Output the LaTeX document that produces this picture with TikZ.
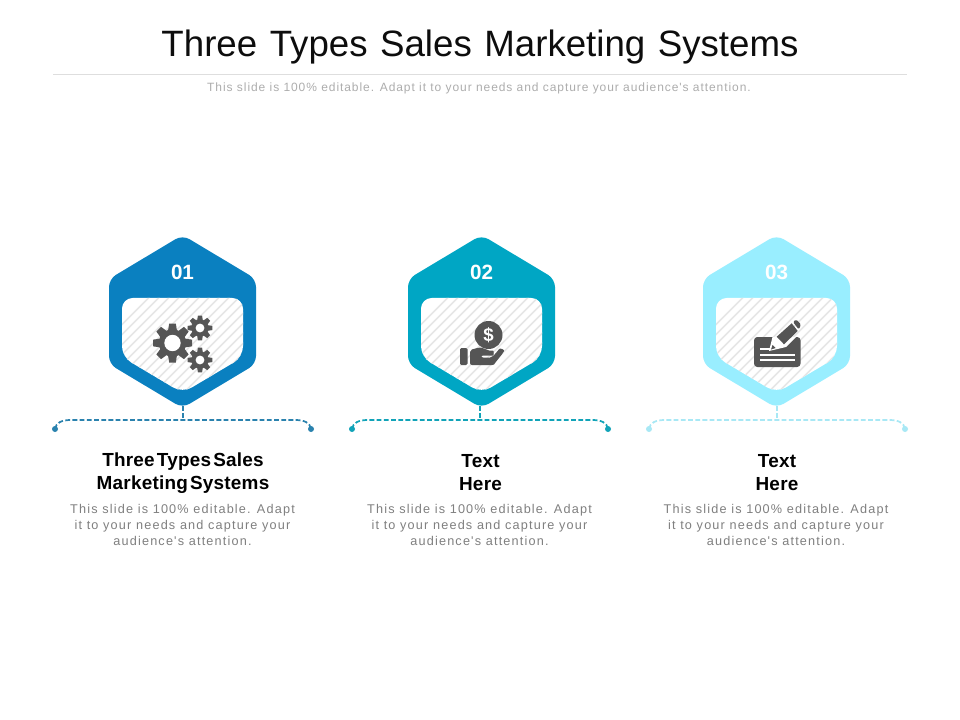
\documentclass[tikz,border=0pt]{standalone}
\usepackage{fontspec}
\usetikzlibrary{calc}
\setmainfont{Liberation Sans}
\newfontfamily\subfont[LetterSpace=7.8]{Liberation Sans}
\newfontfamily\bodyfont[LetterSpace=9.3]{Liberation Sans}
\newfontfamily\headfont[LetterSpace=1.2,WordSpace=0.4]{Liberation Sans}
\newfontfamily\titlefont[WordSpace=1.23]{Liberation Sans}
\definecolor{colA}{HTML}{0A80C0}
\definecolor{colB}{HTML}{00A6C4}
\definecolor{colC}{HTML}{99EEFF}
\definecolor{dashA}{HTML}{2A82AE}
\definecolor{dashB}{HTML}{11A3B8}
\definecolor{dashC}{HTML}{A8E8F5}
\definecolor{iconc}{HTML}{555555}
\definecolor{greyt}{HTML}{808080}
\definecolor{hatchc}{HTML}{E6E6E6}
\tikzset{
  titlet/.style={font=\titlefont\fontsize{27.5}{32}\selectfont,text=black!95,inner sep=0},
  subt/.style={font=\subfont\fontsize{9}{12}\selectfont,text=black!32,inner sep=0},
  numt/.style={font=\bfseries\fontsize{15.5}{18}\selectfont,text=white,inner sep=0},
  headt/.style={font=\headfont\bfseries\fontsize{14.2}{17.2}\selectfont,text=black,align=center,inner sep=0},
  bodyt/.style={font=\bodyfont\fontsize{9.5}{12}\selectfont,text=greyt,align=center,inner sep=0},
  dashl/.style={dashed,dash pattern=on 3.6pt off 1.8pt,line width=1.3pt},
  hatchl/.style={draw=hatchc,line width=1.1pt}
}
\newcommand{\hexbody}[2]{%
  \fill[#2,rounded corners=6pt] (#1,235)--(#1+73.5,279)--(#1+73.5,364)--(#1,408)--(#1-73.5,364)--(#1-73.5,279)--cycle;
  \begin{scope}
    \clip[rounded corners=8pt] (#1-60.5,298)--(#1+60.5,298)--(#1+60.5,357)--(#1,393)--(#1-60.5,357)--cycle;
    \fill[white] (#1-62,296) rectangle (#1+62,394);
    \foreach \k in {0,...,25}{
      \draw[hatchl] (#1-130+\k*10,394)--(#1-130+\k*10+98,296);
    }
  \end{scope}
}
\newcommand{\gearicon}[4]{%
  \fill[iconc] (#1,#2) circle ({#3*0.7});
  \foreach \a in {0,45,...,315}{
    \fill[iconc,shift={(#1,#2)},rotate=\a] (-#3*0.23,-#3*0.62) -- (#3*0.23,-#3*0.62) -- (#3*0.17,-#3) -- (-#3*0.17,-#3) -- cycle;
  }
  \fill[white] (#1,#2) circle ({#3*#4});
}
\begin{document}
\begin{tikzpicture}[x=0.75pt,y=-0.75pt]
\useasboundingbox (0,0) rectangle (960,720);
\fill[white] (0,0) rectangle (960,720);
\node[titlet] (title) at (480,47.5) {Three Types Sales Marketing Systems};
\coordinate (ruleL) at (53,74);
\coordinate (ruleR) at (907,74);
\draw[black!13,line width=0.6pt] (ruleL)--(ruleR);
\node[subt] (subtitle) at (479,88.5) {This slide is 100\% editable. Adapt it to your needs and capture your audience's attention.};

% hexagons
\hexbody{182.5}{colA}
\hexbody{481.5}{colB}
\hexbody{776.5}{colC}

\node[numt] (n1) at (182.5,272) {01};
\node[numt] (n2) at (481.5,272) {02};
\node[numt] (n3) at (776.5,272) {03};

% connectors
\foreach \i/\cx/\col in {1/183/dashA,2/480/dashB,3/777/dashC}{
  \coordinate (hb\i) at (\cx,406);
  \coordinate (bm\i) at (\cx,420);
  \coordinate (bl\i) at (\cx-128,429);
  \coordinate (br\i) at (\cx+128,429);
  \draw[\col,dashl] (hb\i)--(bm\i);
  \draw[\col,dashl] (bl\i) .. controls ($(bl\i)+(1,-6)$) and ($(bl\i)+(6,-9)$) .. ($(bl\i)+(16,-9)$) -- ($(br\i)+(-16,-9)$) .. controls ($(br\i)+(-6,-9)$) and ($(br\i)+(-1,-6)$) .. (br\i);
  \fill[\col] (bl\i) circle (3);
  \fill[\col] (br\i) circle (3);
}

% gears
\gearicon{172.5}{343}{19.5}{0.42}
\gearicon{200}{328}{12.3}{0.36}
\gearicon{200}{360}{12.3}{0.36}

% coin and hand
\fill[iconc] (488.5,335) circle (14);
\node[font=\bfseries\fontsize{14}{14}\selectfont,text=white,inner sep=0] (dollar) at (488.5,335) {\$};
\fill[iconc,rounded corners=1pt] (460,348) rectangle (467.5,365);
\fill[iconc,rounded corners=1.5pt] (470,350) -- (479,347.5) .. controls (484,347.5) and (486,350.5) .. (491,350.5) .. controls (494,350.5) and (494,355.5) .. (491,355.5) -- (481,355.5) -- (481,357.5) -- (492,357.5) -- (498,350.5) .. controls (500,348) and (505,349.5) .. (503,353) -- (495,363) .. controls (494,364.5) and (492,365) .. (490,365) -- (470,365) -- cycle;

% cheque and pencil
\fill[iconc,rounded corners=2.5pt] (754,337) rectangle (800.5,367);
\fill[white] (760,348.3) rectangle (772,350.3);
\fill[white] (760,354.2) rectangle (795,356.4);
\fill[white] (760,359.2) rectangle (795,361.4);
\begin{scope}
  \clip (754,337) rectangle (800.5,351);
  \fill[white] (769,351) -- (773,335) -- (792,318) -- (803,330) -- (786,347) -- cycle;
\end{scope}
\fill[iconc] (776.7,336.7) -- (791.7,323.3) -- (797.7,331) -- (784,344.3) -- cycle;
\fill[iconc,rounded corners=1pt] (793,322) -- (796,319.5) -- (801,324.5) -- (798.8,329.5) -- cycle;
\fill[iconc] (771,349.5) -- (772.5,345) -- (775.5,348) -- cycle;

% labels
\node[headt] (h1) at (183,473.5) {Three Types Sales\\Marketing Systems};
\node[headt] (h2) at (480.5,472.5) {Text\\Here};
\node[headt] (h3) at (777,472.5) {Text\\Here};
\node[bodyt] (b1) at (182.5,524.7) {This slide is 100\% editable. Adapt\\it to your needs and capture your\\audience's attention.};
\node[bodyt] (b2) at (479.5,524.7) {This slide is 100\% editable. Adapt\\it to your needs and capture your\\audience's attention.};
\node[bodyt] (b3) at (776,524.7) {This slide is 100\% editable. Adapt\\it to your needs and capture your\\audience's attention.};
\end{tikzpicture}
\end{document}
